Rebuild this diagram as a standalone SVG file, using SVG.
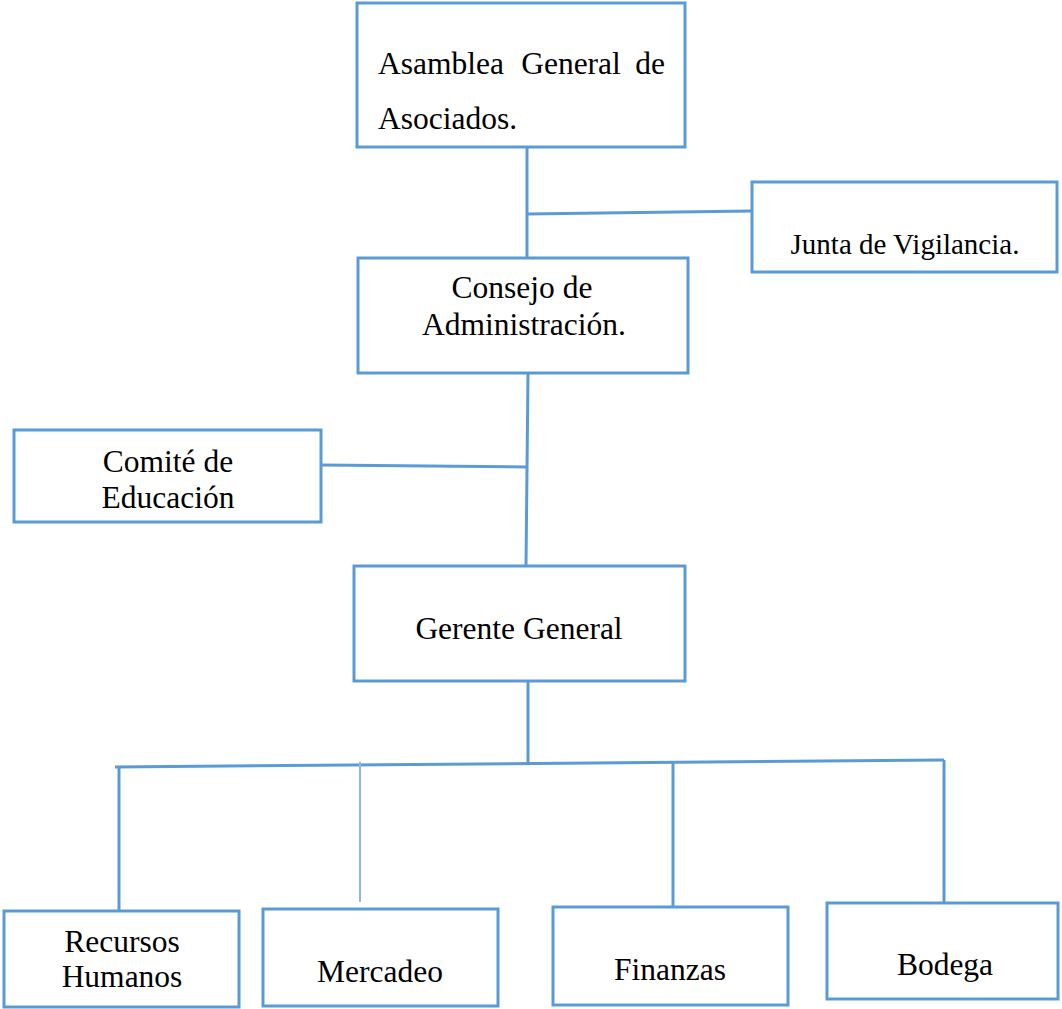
<svg xmlns="http://www.w3.org/2000/svg" width="1062" height="1009" viewBox="0 0 1062 1009">
<style>
.box{fill:#fff;stroke:#5b9bd5;stroke-width:3}
.ln{stroke:#5b9bd5;stroke-width:3;fill:none}
.thin{stroke:#8fb7e3;stroke-width:2;fill:none}
text{font-family:"Liberation Serif","Times New Roman",serif;font-size:31.5px;fill:#000}
.c{text-anchor:middle}
</style>
<rect width="1062" height="1009" fill="#fff"/>
<g id="connectors">
<line class="ln" x1="527" y1="147" x2="527" y2="258"/>
<line class="ln" x1="527" y1="214" x2="752" y2="211"/>
<line class="ln" x1="528" y1="373" x2="526" y2="566"/>
<line class="ln" x1="321" y1="465" x2="527" y2="467"/>
<line class="ln" x1="528" y1="681" x2="528" y2="763"/>
<line class="ln" x1="115" y1="767" x2="944" y2="760"/>
<line class="ln" x1="119" y1="767" x2="119" y2="910"/>
<line class="thin" x1="360" y1="762" x2="360" y2="902"/>
<line class="ln" x1="673" y1="763" x2="673" y2="906"/>
<line class="ln" x1="944" y1="760" x2="944" y2="902"/>
</g>
<g id="asamblea">
<rect class="box" x="357" y="3" width="328" height="144"/>
<text x="378" y="74">Asamblea</text>
<text x="571" y="74" class="c">General</text>
<text x="665" y="74" text-anchor="end">de</text>
<text x="378" y="129">Asociados.</text>
</g>
<g id="junta">
<rect class="box" x="752" y="182" width="305" height="90"/>
<text x="905" y="254" class="c" style="font-size:29px">Junta de Vigilancia.</text>
</g>
<g id="consejo">
<rect class="box" x="358" y="258" width="330" height="115"/>
<text x="522" y="298" class="c">Consejo de</text>
<text x="524" y="335" class="c">Administración.</text>
</g>
<g id="comite">
<rect class="box" x="14" y="430" width="307" height="92"/>
<text x="168" y="472" class="c">Comité de</text>
<text x="168" y="508" class="c">Educación</text>
</g>
<g id="gerente">
<rect class="box" x="354" y="566" width="331" height="115"/>
<text x="519" y="639" class="c">Gerente General</text>
</g>
<g id="rrhh">
<rect class="box" x="4" y="911" width="235" height="96"/>
<text x="122" y="952" class="c">Recursos</text>
<text x="122" y="987" class="c">Humanos</text>
</g>
<g id="mercadeo">
<rect class="box" x="263" y="909" width="235" height="97"/>
<text x="380" y="982" class="c">Mercadeo</text>
</g>
<g id="finanzas">
<rect class="box" x="553" y="907" width="235" height="98"/>
<text x="670" y="980" class="c">Finanzas</text>
</g>
<g id="bodega">
<rect class="box" x="827" y="903" width="231" height="96"/>
<text x="945" y="975" class="c">Bodega</text>
</g>
</svg>
